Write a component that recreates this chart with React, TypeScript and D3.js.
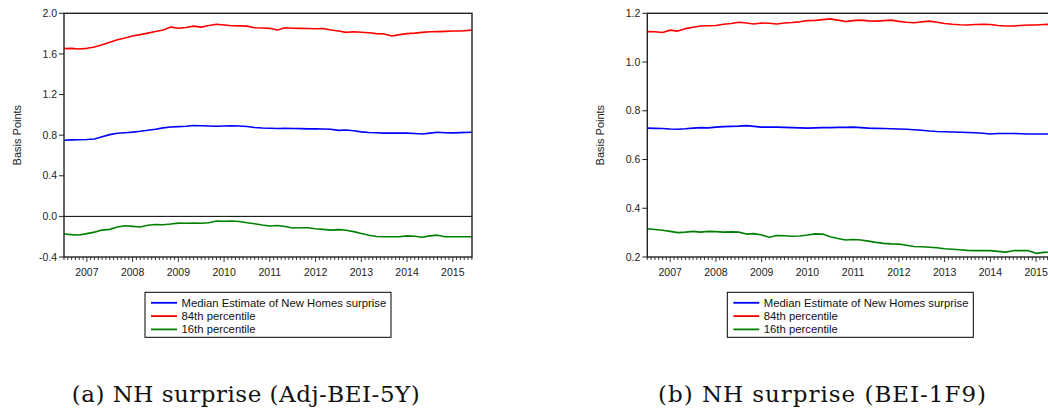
import React from "react";
import * as d3 from "d3";

const months: string[] = [
  "2006-07","2006-09","2006-11","2007-01","2007-03","2007-05","2007-07","2007-09","2007-11",
  "2008-01","2008-03","2008-05","2008-07","2008-09","2008-11","2009-01","2009-03","2009-05",
  "2009-07","2009-09","2009-11","2010-01","2010-03","2010-05","2010-07","2010-09","2010-11",
  "2011-01","2011-03","2011-05","2011-07","2011-09","2011-11","2012-01","2012-03","2012-05",
  "2012-07","2012-09","2012-11","2013-01","2013-03","2013-05","2013-07","2013-09","2013-11",
  "2014-01","2014-03","2014-05","2014-07","2014-09","2014-11","2015-01","2015-03","2015-06",
];

// Panel (a): Adj-BEI-5Y
const aMedian = [0.75,0.753,0.755,0.757,0.762,0.785,0.805,0.818,0.824,0.83,0.838,0.848,0.858,0.872,0.88,0.884,0.888,0.895,0.893,0.89,0.888,0.89,0.892,0.89,0.885,0.875,0.87,0.868,0.866,0.868,0.866,0.864,0.862,0.862,0.861,0.858,0.847,0.85,0.843,0.832,0.826,0.823,0.82,0.82,0.82,0.82,0.816,0.812,0.82,0.828,0.823,0.822,0.825,0.828];
const aP84 = [1.652,1.655,1.648,1.655,1.668,1.69,1.715,1.74,1.757,1.776,1.79,1.805,1.82,1.835,1.864,1.852,1.86,1.874,1.864,1.88,1.892,1.885,1.878,1.876,1.874,1.858,1.855,1.852,1.835,1.858,1.853,1.852,1.85,1.848,1.85,1.835,1.825,1.812,1.818,1.813,1.808,1.8,1.797,1.777,1.79,1.8,1.805,1.812,1.818,1.82,1.822,1.825,1.826,1.834];
const aP16 = [-0.174,-0.18,-0.184,-0.17,-0.155,-0.135,-0.128,-0.105,-0.092,-0.098,-0.104,-0.088,-0.08,-0.082,-0.075,-0.066,-0.068,-0.066,-0.068,-0.062,-0.046,-0.048,-0.046,-0.05,-0.062,-0.072,-0.085,-0.095,-0.09,-0.1,-0.115,-0.112,-0.112,-0.122,-0.128,-0.135,-0.13,-0.136,-0.15,-0.168,-0.185,-0.198,-0.2,-0.2,-0.2,-0.192,-0.195,-0.205,-0.192,-0.185,-0.2,-0.2,-0.2,-0.2];
const aTicks = [-0.4, 0.0, 0.4, 0.8, 1.2, 1.6, 2.0];

// Panel (b): BEI-1F9
const bMedian = [0.729,0.728,0.727,0.725,0.724,0.726,0.729,0.731,0.73,0.733,0.735,0.736,0.737,0.739,0.736,0.733,0.733,0.733,0.732,0.731,0.73,0.729,0.73,0.731,0.731,0.732,0.732,0.733,0.731,0.729,0.728,0.727,0.726,0.725,0.724,0.722,0.72,0.717,0.715,0.714,0.713,0.712,0.711,0.71,0.708,0.705,0.707,0.707,0.707,0.706,0.705,0.705,0.705,0.705];
const bP84 = [1.125,1.124,1.121,1.131,1.127,1.137,1.143,1.148,1.149,1.15,1.155,1.158,1.163,1.16,1.156,1.16,1.159,1.156,1.16,1.162,1.165,1.17,1.171,1.174,1.177,1.172,1.166,1.17,1.172,1.169,1.168,1.17,1.172,1.167,1.163,1.161,1.165,1.168,1.163,1.158,1.155,1.153,1.152,1.154,1.155,1.154,1.15,1.148,1.148,1.15,1.152,1.152,1.154,1.155];
const bP16 = [0.316,0.313,0.31,0.305,0.3,0.302,0.305,0.302,0.305,0.304,0.302,0.303,0.302,0.294,0.296,0.29,0.281,0.288,0.287,0.285,0.286,0.29,0.295,0.294,0.283,0.276,0.27,0.272,0.27,0.265,0.26,0.256,0.254,0.253,0.248,0.243,0.242,0.24,0.238,0.234,0.232,0.23,0.227,0.226,0.226,0.226,0.223,0.22,0.226,0.226,0.226,0.215,0.219,0.22];
const bTicks = [0.2, 0.4, 0.6, 0.8, 1.0, 1.2];

const yearLabels = ["2007","2008","2009","2010","2011","2012","2013","2014","2015"];
const seriesNames = ["Median Estimate of New Homes surprise", "84th percentile", "16th percentile"];
const seriesColors = ["#0000ff", "#ff0000", "#008000"];

const toYear = (s: string) => {
  const [y, m] = s.split("-").map(Number);
  return y + (m - 1) / 12;
};

const SANS = "'Liberation Sans', Arial, Helvetica, sans-serif";
const SERIF = "'DejaVu Serif', 'Liberation Serif', serif";

type PanelProps = {
  id: string;
  left: number;
  series: number[][];
  yDomain: [number, number];
  yTicks: number[];
  zeroLine: boolean;
  legendX: number;
  caption: string;
  captionX: number;
  captionW: number;
};

function Panel({ id, left, series, yDomain, yTicks, zeroLine, legendX, caption, captionX, captionW }: PanelProps) {
  const top = 13.3;
  const bottom = 257;
  const width = 408;
  const x = d3.scaleLinear().domain([2006.5, 2015.42]).range([left, left + width]);
  const y = d3.scaleLinear().domain(yDomain).range([bottom, top]);
  const xs = months.map(toYear);
  const line = d3
    .line<number>()
    .x((_, i) => x(xs[i]))
    .y((d) => y(d));

  const monthTicks: { v: number; major: boolean }[] = [];
  for (let yr = 2006; yr <= 2015; yr++) {
    for (let m = 0; m < 12; m++) {
      const v = yr + m / 12;
      if (v >= 2006.5 && v <= 2015.42) monthTicks.push({ v, major: m === 0 });
    }
  }

  const legendTop = 292.3;
  return (
    <g>
      <defs>
        <clipPath id={`clip-${id}`}>
          <rect x={left} y={top} width={width} height={bottom - top} />
        </clipPath>
      </defs>
      {zeroLine && (
        <line x1={left} x2={left + width} y1={y(0)} y2={y(0)} stroke="#000" strokeWidth={1} />
      )}
      <g clipPath={`url(#clip-${id})`}>
        {series.map((s, i) => (
          <path key={i} d={line(s) || ""} fill="none" stroke={seriesColors[i]} strokeWidth={1.6} strokeLinejoin="round" />
        ))}
      </g>
      <rect x={left} y={top} width={width} height={bottom - top} fill="none" stroke="#222" strokeWidth={1.4} />
      {yTicks.map((t) => (
        <g key={t}>
          <line x1={left - 5} x2={left} y1={y(t)} y2={y(t)} stroke="#222" strokeWidth={1} />
          <text x={left - 7} y={y(t)} dy="0.35em" textAnchor="end" fontSize={10.5} fontFamily={SANS} fill="#222">
            {t.toFixed(1)}
          </text>
        </g>
      ))}
      {monthTicks.map((t, i) => (
        <line key={i} x1={x(t.v)} x2={x(t.v)} y1={bottom} y2={bottom + (t.major ? 5 : 3)} stroke="#222" strokeWidth={0.9} />
      ))}
      {yearLabels.map((lab) => (
        <text key={lab} x={x(Number(lab))} y={276} textAnchor="middle" fontSize={10.5} fontFamily={SANS} fill="#222">
          {lab}
        </text>
      ))}
      <text
        transform={`translate(${left - 47},${(top + bottom) / 2}) rotate(-90)`}
        textAnchor="middle"
        dy="0.35em"
        fontSize={11}
        fontFamily={SANS}
        fill="#222"
      >
        Basis Points
      </text>
      <rect x={legendX} y={legendTop} width={246} height={45} fill="#fff" stroke="#000" strokeWidth={1} />
      {seriesNames.map((n, i) => (
        <g key={n}>
          <line x1={legendX + 6} x2={legendX + 32} y1={legendTop + 10.5 + i * 13.3} y2={legendTop + 10.5 + i * 13.3} stroke={seriesColors[i]} strokeWidth={1.8} />
          <text x={legendX + 36.5} y={legendTop + 10.5 + i * 13.3} dy="0.35em" fontSize={11.3} fontFamily={SANS} fill="#111">
            {n}
          </text>
        </g>
      ))}
      <text x={captionX} y={402} fontSize={23} fontFamily={SERIF} fill="#111" textLength={captionW} lengthAdjust="spacing">
        {caption}
      </text>
    </g>
  );
}

export default function App() {
  return (
    <svg width={1048} height={409} style={{ position: "absolute", left: 0, top: 0, background: "#fff" }}>
      <rect x={0} y={0} width={1048} height={409} fill="#fff" />
      <Panel
        id="a"
        left={64}
        series={[aMedian, aP84, aP16]}
        yDomain={[-0.4, 2.0]}
        yTicks={aTicks}
        zeroLine={true}
        legendX={145}
        caption="(a) NH surprise (Adj-BEI-5Y)"
        captionX={71.7}
        captionW={348}
      />
      <Panel
        id="b"
        left={647.3}
        series={[bMedian, bP84, bP16]}
        yDomain={[0.2, 1.2]}
        yTicks={bTicks}
        zeroLine={false}
        legendX={727.3}
        caption="(b) NH surprise (BEI-1F9)"
        captionX={658}
        captionW={328}
      />
    </svg>
  );
}
